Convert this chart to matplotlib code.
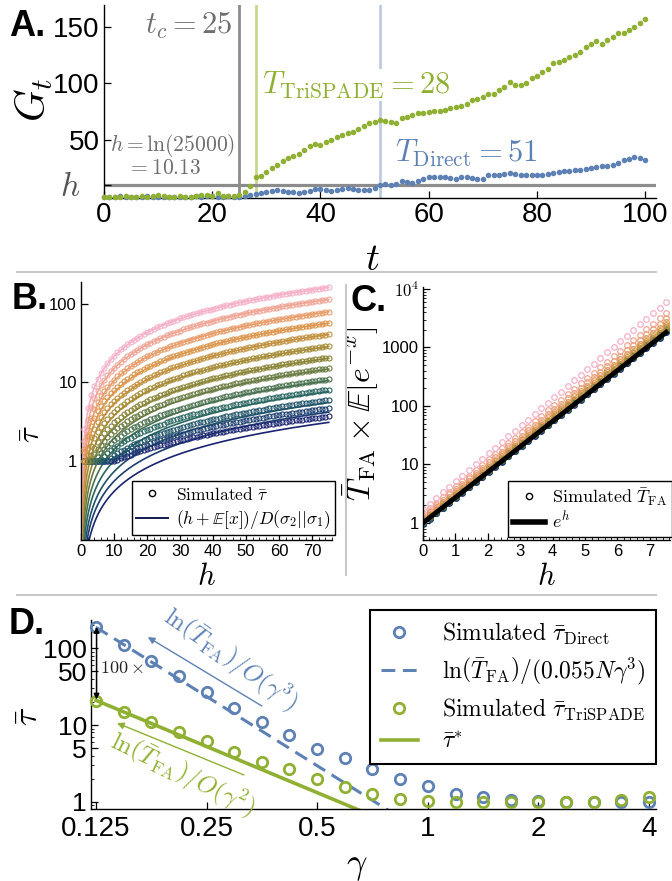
import numpy as np
import matplotlib
matplotlib.use('Agg')
import matplotlib.pyplot as plt
from matplotlib import font_manager as fm
from matplotlib.colors import LinearSegmentedColormap
from matplotlib.lines import Line2D
import matplotlib.ticker as mticker
import matplotlib.transforms as mtransforms

plt.rcParams['mathtext.fontset'] = 'cm'
_names = {f.name for f in fm.fontManager.ttflist}
TICKFONT = 'Liberation Sans Narrow' if 'Liberation Sans Narrow' in _names else 'Liberation Sans'
plt.rcParams['font.family'] = [TICKFONT, 'DejaVu Sans']

BLUE = '#5E81B5'
GREEN = '#8FB032'

# ---------------- Panel A data ----------------
t_vals = list(range(101))
G_tri = [0, 0, 0, 0, 1.0, 0, 0, 0.5, 0, 0.5,
         1.8, 0.8, 0, 0, 0.5, 0, 0, 0.5, 1.2, 1.5,
         0.5, 3.5, 1.0, 0.3, 0.8, 1.5, 4.0, 9.5,
         17, 18.5, 22, 25, 28, 31.5, 34, 36, 38, 41, 45, 46.5, 45.5, 48.5, 50, 53,
         54.5, 56, 57, 60, 62, 65, 66, 67.5, 67, 66, 65, 69, 70.5, 72, 73.5, 74,
         75, 76, 75.5, 76.5, 78, 79, 80, 82, 85, 86, 88, 90.5, 91, 94, 96.5, 101.5,
         98.5, 98.5, 100, 104.5, 106, 110, 113, 117.5, 119, 120.5, 123.5, 125, 128,
         132, 135, 137, 135, 138, 141, 144, 144, 147, 150, 153, 157]
G_dir = [0, 0, 0, 0.8, 0, 0, 0, 0, 0.5, 0,
         0, 0, 0, 0, 0, 0, 0, 0.8, 0, 0.5,
         1.0, 0, 0, 0.5, 0, 0, 0.5,
         1.5, 2.4, 3.5, 4.4, 5.3, 5.9, 5.0, 4.4, 3.8, 3.5, 4.4, 5.3, 6.5, 7.0,
         5.9, 5.3, 5.9, 6.8, 7.4, 7.0, 5.9, 5.9, 5.9, 8.0, 10.5, 10.9, 10.0, 11.5,
         13.5, 13.2, 12.5, 13.5,
         16, 17, 17, 17, 17, 16.5, 16, 17.5, 17, 16.5, 16, 16,
         19, 19.5, 19.5, 20, 20.5, 20, 19.5, 19.5, 19, 19.5,
         19.5, 20, 21, 22, 22.5, 23, 23.5, 24, 24.5, 25.5,
         26.5, 27, 27, 28, 29.5, 32, 33, 35, 34, 32]
t_c = 25
T_tri = 28
T_dir = 51
h_A = 10.13

# ---------------- Panel B data (navy -> pink) ----------------
KL_D = [24.1, 17.87, 13.5, 9.81, 7.09, 5.08, 3.70, 2.625, 1.848, 1.329, 0.954, 0.664, 0.466]
Ex_line = [-0.05, -0.05, -0.05, -0.05, -0.05, -0.05, -0.05, -0.05, -0.05, -0.05, -0.05, -0.05, -0.05]
sim_offset = [14.25, 9.0, 6.0, 4.5, 3.0, 2.25, 1.5, 1.125, 0.75, 0.75, 0.375, 0.2, 0.2]
h_B_sim = list(range(1, 76))

# ---------------- Panel C data (navy -> pink) ----------------
c_start = [0.97, 0.99, 1.0, 1.02, 1.04, 1.06, 1.09, 1.12, 1.17, 1.23, 1.32, 1.45, 1.72]
c_end = [1.0, 1.02, 1.04, 1.06, 1.09, 1.12, 1.16, 1.22, 1.32, 1.48, 1.75, 2.15, 3.3]
h_C_max = 7.5

# ---------------- Panel D data ----------------
gamma = [0.125, 0.149, 0.177, 0.210, 0.25, 0.297, 0.354, 0.420, 0.5, 0.595, 0.707,
         0.841, 1.0, 1.19, 1.41, 1.68, 2.0, 2.38, 2.83, 3.36, 4.0]
tau_direct = [192, 110, 68, 43, 26.7, 16.8, 11.0, 7.5, 4.9, 3.7, 2.67, 2.0, 1.62,
              1.25, 1.14, 1.05, 1.02, 1.0, 1.0, 1.0, 1.0]
tau_tri = [20.8, 14.6, 11.0, 8.2, 6.1, 4.5, 3.3, 2.64, 2.0, 1.57, 1.26, 1.08, 1.03,
           1.0, 1.0, 1.0, 1.0, 1.0, 1.0, 1.05, 1.14]
T_FA = 25000
N_sites = 500
tau_star_const = 0.328

# ---------------- Figure ----------------
W, H = 672, 881
fig = plt.figure(figsize=(W / 100, H / 100), dpi=100)


def add_ax(l, t, r, b):
    return fig.add_axes([l / W, 1 - b / H, (r - l) / W, (b - t) / H])


def style(ax, lsize):
    for s in ['top', 'right']:
        ax.spines[s].set_visible(False)
    for s in ['left', 'bottom']:
        ax.spines[s].set_linewidth(1.0)
    ax.tick_params(which='both', direction='in', labelsize=lsize, pad=3)
    ax.tick_params(which='major', length=5, width=0.9)
    ax.tick_params(which='minor', length=2.5, width=0.6)


axA = add_ax(104, 5, 656, 198)
axB = add_ax(81, 282, 332, 540)
axC = add_ax(423, 287, 670, 540)
axD = add_ax(91, 620, 656, 809)

# ---- Panel A ----
style(axA, 20)
axA.axvline(t_c, color='#8c8c8c', lw=2.0, zorder=1)
axA.axvline(T_tri, color='#c5d88f', lw=2.0, zorder=1)
axA.axvline(T_dir, color='#bccbe2', lw=2.0, zorder=1)
axA.axhline(h_A, color='#8c8c8c', lw=2.3, zorder=1)
axA.plot(t_vals, G_dir, 'o', color=BLUE, ms=4, mec='none', clip_on=False, zorder=3)
axA.plot(t_vals, G_tri, 'o', color=GREEN, ms=4, mec='none', clip_on=False, zorder=3)
axA.set_xlim(0, 102)
axA.set_ylim(-1.1, 169)
axA.set_xticks([0, 20, 40, 60, 80, 100])
axA.set_yticks([h_A, 50, 100, 150])
axA.set_yticklabels(['', '50', '100', '150'])
trA = mtransforms.blended_transform_factory(axA.transAxes, axA.transData)
axA.text(-0.043, h_A - 2, '$h$', transform=trA, color='#555555', fontsize=24,
         ha='right', va='center')
axA.text(23.7, 151, r'$t_c = 25$', color='#6e6e6e', fontsize=22, ha='right', va='center')
axA.text(29.2, 98.5, r'$T_{\mathrm{TriSPADE}} = 28$', color=GREEN, fontsize=22,
         ha='left', va='center', bbox=dict(fc='white', ec='none', pad=0.5), zorder=2)
axA.text(53.8, 38, r'$T_{\mathrm{Direct}} = 51$', color=BLUE, fontsize=22,
         ha='left', va='center', zorder=2)
axA.text(24.2, 45.6, r'$h = \ln(25000)$', color='#6e6e6e', fontsize=15.5, ha='right', va='center')
axA.text(11.1, 25.3, r'$= 10.13$', color='#6e6e6e', fontsize=15.5, ha='center', va='center')
axA.set_ylabel(r'$G_t$', fontsize=30)
axA.yaxis.set_label_coords(-0.089, 0.51)
axA.set_xlabel(r'$t$', fontsize=28)
axA.xaxis.set_label_coords(0.486, -0.228)

# ---- colours for B and C ----
anchors = ['#1a2470', '#1b4a6e', '#2a6660', '#5a7848', '#8a8538', '#b58f38',
           '#dc964c', '#eea07a', '#f6b0c8']
cmap = LinearSegmentedColormap.from_list('grad', anchors)
nser = len(KL_D)
cols = [cmap(i / (nser - 1)) for i in range(nser)]

# ---- Panel B ----
style(axB, 12)
axB.set_yscale('log')
h_line = np.linspace(0.0, 75, 1500)
hs = np.array(h_B_sim, dtype=float)
for i in range(nser):
    yl = (h_line + Ex_line[i]) / KL_D[i]
    yl = np.where(yl > 0, yl, np.nan)
    axB.plot(h_line, yl, color=cols[i], lw=1.2, zorder=2)
for i in range(nser):
    ys = np.maximum(1.0, (hs + sim_offset[i]) / KL_D[i])
    axB.plot(hs, ys, 'o', mfc='none', mec=cols[i], ms=3.6, mew=0.8, zorder=3)
axB.set_xlim(0, 76)
axB.set_ylim(0.1, 188)
axB.set_xticks(range(0, 71, 10))
axB.xaxis.set_minor_locator(mticker.MultipleLocator(2))
axB.set_yticks([1, 10, 100])
axB.set_yticklabels(['1', '10', '100'])
axB.yaxis.set_minor_locator(mticker.NullLocator())
axB.set_xlabel(r'$h$', fontsize=22)
axB.xaxis.set_label_coords(0.5, -0.085)
axB.set_ylabel(r'$\bar{\tau}$', fontsize=22)
axB.yaxis.set_label_coords(-0.135, 0.41)
hB = [Line2D([], [], ls='none', marker='o', mfc='none', mec='k', ms=4.5, mew=1.0),
      Line2D([], [], color='#111a4a', lw=1.4)]
legB = axB.legend(hB, [r'$\mathrm{Simulated}\ \bar{\tau}$',
                       r'$(h+\mathbb{E}[x])/D(\sigma_2||\sigma_1)$'],
                  loc='lower right', bbox_to_anchor=(1.012, 0.019), bbox_transform=axB.transAxes,
                  fontsize=12.5, fancybox=False, framealpha=1, edgecolor='k',
                  handlelength=1.8, handletextpad=0.5, borderpad=0.25, labelspacing=0.3,
                  borderaxespad=0)
legB.get_frame().set_linewidth(1.0)

# ---- Panel C ----
style(axC, 12)
axC.set_yscale('log')
h_c = np.linspace(0, h_C_max, 38)
for i in range(nser):
    fac = c_start[i] * (c_end[i] / c_start[i]) ** (h_c / h_C_max)
    axC.plot(h_c, fac * np.exp(h_c), 'o', mfc='none', mec=cols[i], ms=4.0, mew=0.9, zorder=2)
hl_c = np.linspace(0, h_C_max, 200)
axC.plot(hl_c, np.exp(hl_c), color='k', lw=3.5, zorder=3)
axC.set_xlim(0, 7.62)
axC.set_ylim(0.51, 10800)
axC.set_xticks(range(0, 8))
axC.xaxis.set_minor_locator(mticker.MultipleLocator(0.2))
axC.set_yticks([1, 10, 100, 1000, 10000])
axC.set_yticklabels(['1', '10', '100', '1000', r'$\mathsf{10^4}$'])
axC.yaxis.set_minor_locator(mticker.LogLocator(base=10, subs=np.arange(2, 10)))
axC.yaxis.set_minor_formatter(mticker.NullFormatter())
axC.set_xlabel(r'$h$', fontsize=22)
axC.xaxis.set_label_coords(0.5, -0.085)
axC.set_ylabel(r'$\bar{T}_{\mathrm{FA}}\times\mathbb{E}[e^{-x}]$', fontsize=23)
axC.yaxis.set_label_coords(-0.174, 0.50)
hC = [Line2D([], [], ls='none', marker='o', mfc='none', mec='k', ms=4.5, mew=1.0),
      Line2D([], [], color='k', lw=4)]
legC = axC.legend(hC, [r'$\mathrm{Simulated}\ \bar{T}_{\mathrm{FA}}$', r'$e^h$'],
                  loc='lower right', bbox_to_anchor=(1.008, 0.012), bbox_transform=axC.transAxes,
                  fontsize=13, fancybox=False, framealpha=1, edgecolor='k',
                  handlelength=1.8, handletextpad=0.4, borderpad=0.25, labelspacing=0.2,
                  borderaxespad=0)
legC.get_frame().set_linewidth(1.0)

# ---- Panel D ----
style(axD, 20)
axD.tick_params(axis='y', labelsize=19)
axD.tick_params(axis='x', pad=5)
axD.set_xscale('log', base=2)
axD.set_yscale('log')
g_line = np.geomspace(0.125, 4, 400)
direct_line = np.log(T_FA) / (0.055 * N_sites * g_line ** 3)
star_line = tau_star_const / g_line ** 2
axD.plot(g_line, direct_line, color=BLUE, lw=2.2, ls=(0, (4.5, 2.5)), zorder=2)
axD.plot(g_line, star_line, color=GREEN, lw=2.6, zorder=2)
axD.plot(gamma, tau_direct, 'o', mfc='none', mec=BLUE, ms=7.5, mew=2.0, zorder=3, clip_on=False)
axD.plot(gamma, tau_tri, 'o', mfc='none', mec=GREEN, ms=7.5, mew=2.0, zorder=4, clip_on=False)
axD.set_xlim(0.1212, 4.18)
axD.set_ylim(0.803, 234)
axD.set_xticks([0.125, 0.25, 0.5, 1, 2, 4])
axD.set_xticklabels(['0.125', '0.25', '0.5', '1', '2', '4'])
axD.xaxis.set_minor_locator(mticker.NullLocator())
axD.set_yticks([1, 5, 10, 50, 100])
axD.set_yticklabels(['1', '5', '10', '50', '100'])
axD.yaxis.set_minor_locator(mticker.LogLocator(base=10, subs=np.arange(2, 10)))
axD.yaxis.set_minor_formatter(mticker.NullFormatter())
axD.set_xlabel(r'$\gamma$', fontsize=26)
axD.xaxis.set_label_coords(0.47, -0.205)
axD.set_ylabel(r'$\bar{\tau}$', fontsize=24)
axD.yaxis.set_label_coords(-0.081, 0.49)

axD.annotate('', xy=(0.173, 140), xytext=(0.3535, 17.7),
             arrowprops=dict(arrowstyle='-|>', color=BLUE, lw=1.0, mutation_scale=10,
                             shrinkA=0, shrinkB=0))
axD.annotate('', xy=(0.1427, 10.6), xytext=(0.316, 2.23),
             arrowprops=dict(arrowstyle='-|>', color=GREEN, lw=1.0, mutation_scale=10,
                             shrinkA=0, shrinkB=0))
axD.text(0.29, 72, r'$\ln\!\left(\bar{T}_{\mathrm{FA}}\right)/O(\gamma^3)$', color=BLUE,
         fontsize=18, rotation=-35, ha='center', va='center', rotation_mode='anchor')
axD.text(0.216, 2.3, r'$\ln\!\left(\bar{T}_{\mathrm{FA}}\right)/O(\gamma^2)$', color=GREEN,
         fontsize=18, rotation=-26, ha='center', va='center', rotation_mode='anchor')
axD.annotate('', xy=(0.1255, 190), xytext=(0.1255, 21.5),
             arrowprops=dict(arrowstyle='<|-|>', color='k', lw=1.1, mutation_scale=8,
                             shrinkA=0, shrinkB=0), zorder=5)
axD.text(0.128, 55, r'$100\times$', fontsize=13, ha='left', va='center', color='#222222')

hD = [Line2D([], [], ls='none', marker='o', mfc='none', mec=BLUE, ms=7.5, mew=2.0),
      Line2D([], [], color=BLUE, lw=2.2, ls=(0, (4.5, 2.5))),
      Line2D([], [], ls='none', marker='o', mfc='none', mec=GREEN, ms=7.5, mew=2.0),
      Line2D([], [], color=GREEN, lw=2.6)]
labD = [r'$\mathrm{Simulated}\ \bar{\tau}_{\mathrm{Direct}}$',
        r'$\ln\!\left(\bar{T}_{\mathrm{FA}}\right)/(0.055N\gamma^3)$',
        r'$\mathrm{Simulated}\ \bar{\tau}_{\mathrm{TriSPADE}}$',
        r'$\bar{\tau}^{*}$']
legD = axD.legend(hD, labD, loc='upper right', bbox_to_anchor=(1.0, 1.053),
                  bbox_transform=axD.transAxes, fontsize=17, fancybox=False, framealpha=1,
                  edgecolor='k', handlelength=1.6, handletextpad=1.0, borderpad=0.45,
                  labelspacing=0.4, borderaxespad=0)
legD.get_frame().set_linewidth(1.5)

# ---- separators and panel letters ----
sepc = '#c8c8c8'
fig.add_artist(Line2D([17 / W, 656 / W], [1 - 272 / H, 1 - 272 / H], transform=fig.transFigure,
                      color=sepc, lw=1.5))
fig.add_artist(Line2D([17 / W, 656 / W], [1 - 595 / H, 1 - 595 / H], transform=fig.transFigure,
                      color=sepc, lw=1.5))
fig.add_artist(Line2D([346 / W, 346 / W], [1 - 285 / H, 1 - 575 / H], transform=fig.transFigure,
                      color=sepc, lw=1.5))
for lab, x, y in [('A.', 9, 26), ('B.', 12, 299), ('C.', 350, 302), ('D.', 9, 624)]:
    fig.text(x / W, 1 - y / H, lab, fontsize=26, fontweight='bold', family='Liberation Sans',
             ha='left', va='center')

fig.savefig('out.png', dpi=100)
